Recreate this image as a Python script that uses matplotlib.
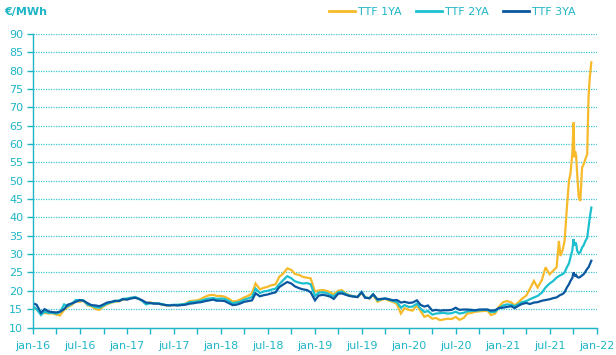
import matplotlib
matplotlib.use("Agg")
import matplotlib.pyplot as plt
import matplotlib.dates as mdates
import pandas as pd
from matplotlib.lines import Line2D

# ---------------- data ----------------
# semi-monthly observations (1st and 15th) from 2016-01-01 to 2021-06-15
semi_start = "2016-01-01"
semi_end = "2021-06-15"
# denser observations during the late-2021 rally
late_dates = ["2021-07-01", "2021-07-15", "2021-07-28", "2021-08-06", "2021-08-12",
              "2021-08-20", "2021-08-28", "2021-09-06", "2021-09-14", "2021-09-20",
              "2021-09-27", "2021-10-02", "2021-10-05", "2021-10-08", "2021-10-12",
              "2021-10-16", "2021-10-22", "2021-10-28", "2021-11-04", "2021-11-10",
              "2021-11-17", "2021-11-24", "2021-11-29", "2021-12-04", "2021-12-10"]

ttf_1ya = [
    # 2016
    15.5, 15.0, 13.8, 14.0, 13.8, 13.9, 13.5, 13.3, 14.8, 15.6, 16.2, 17.2,
    17.0, 17.3, 16.0, 15.8, 15.0, 14.8, 15.8, 16.3, 16.8, 17.0, 17.2, 17.6,
    # 2017
    17.8, 18.0, 18.3, 17.8, 17.3, 16.6, 16.8, 16.6, 16.5, 16.3, 16.0, 16.0,
    16.1, 16.1, 16.2, 16.5, 17.2, 17.3, 17.4, 17.8, 18.4, 18.8, 18.9, 18.6,
    # 2018
    18.6, 18.4, 17.8, 17.1, 17.2, 17.6, 18.2, 18.6, 19.3, 22.0, 20.4, 20.8,
    21.1, 21.5, 21.8, 23.8, 24.8, 26.1, 25.7, 24.6, 24.3, 23.8, 23.6, 23.4,
    # 2019
    19.8, 20.1, 20.2, 20.0, 19.6, 19.0, 20.0, 20.2, 19.3, 18.8, 18.5, 18.3,
    19.4, 18.2, 17.9, 18.9, 17.0, 17.5, 17.8, 17.3, 17.0, 16.4, 13.8, 15.3,
    # 2020
    14.8, 14.6, 16.0, 14.5, 12.9, 13.3, 12.4, 12.6, 12.0, 12.2, 12.4, 12.3,
    12.9, 12.1, 12.6, 13.8, 14.0, 14.3, 14.4, 14.5, 14.6, 13.4, 13.8, 15.6,
    # 2021 H1
    16.9, 17.2, 16.9, 16.0, 16.8, 17.8, 18.7, 20.5, 22.7, 20.9, 23.0, 26.4,
    # 2021 H2
    24.5, 25.5, 26.4, 33.6, 29.5, 31.0, 33.6, 42.7, 50.0, 52.0,
    57.3, 65.9, 56.4, 58.0, 56.8, 51.8, 45.5, 44.5, 53.6, 54.5,
    55.9, 57.3, 72.7, 78.2, 82.3,
]

ttf_2ya = [
    # 2016
    15.8, 15.0, 13.4, 14.3, 14.0, 14.0, 13.8, 14.2, 16.3, 15.8, 16.5, 17.5,
    17.4, 17.4, 16.2, 16.0, 15.5, 15.4, 16.0, 16.5, 16.9, 17.1, 17.4, 17.8,
    # 2017
    17.9, 18.1, 18.3, 17.9, 17.2, 16.3, 16.6, 16.6, 16.6, 16.4, 16.1, 16.1,
    16.2, 16.2, 16.3, 16.4, 16.9, 17.0, 17.1, 17.3, 17.7, 17.9, 18.0, 17.8,
    # 2018
    17.9, 17.8, 17.2, 16.6, 16.8, 17.0, 17.6, 17.9, 18.3, 20.6, 19.4, 19.8,
    20.0, 20.3, 20.6, 21.8, 23.0, 24.0, 23.4, 22.6, 22.2, 22.0, 22.1, 21.8,
    # 2019
    18.6, 19.5, 19.6, 19.4, 18.9, 18.5, 19.6, 19.8, 19.1, 18.7, 18.5, 18.3,
    19.7, 18.2, 18.0, 19.1, 17.4, 17.7, 17.9, 17.6, 17.2, 17.0, 15.4, 16.1,
    # 2020
    15.6, 15.7, 16.5, 15.2, 14.2, 14.5, 13.5, 13.8, 13.9, 14.0, 13.8, 13.9,
    14.3, 13.8, 14.0, 14.4, 14.5, 14.6, 14.7, 14.8, 14.8, 14.2, 14.3, 15.2,
    # 2021 H1
    16.0, 16.3, 16.2, 15.8, 16.3, 16.9, 17.2, 17.7, 18.2, 18.6, 19.5, 20.9,
    # 2021 H2
    22.0, 22.7, 23.6, 24.0, 24.3, 24.5, 25.0, 26.4, 27.5, 29.1,
    31.0, 34.1, 32.3, 33.2, 32.8, 30.9, 30.2, 30.5, 31.8, 32.4,
    33.6, 34.5, 37.3, 40.0, 42.7,
]

ttf_3ya = [
    # 2016
    16.6, 16.2, 14.0, 15.0, 14.4, 14.2, 14.1, 14.3, 15.0, 16.2, 16.6, 17.0,
    17.5, 17.3, 16.6, 16.1, 16.0, 15.8, 16.3, 16.8, 17.0, 17.3, 17.2, 17.7,
    # 2017
    17.6, 17.9, 18.1, 17.8, 17.4, 16.8, 16.7, 16.5, 16.5, 16.3, 16.1, 16.0,
    16.1, 16.0, 16.1, 16.2, 16.5, 16.6, 16.8, 16.9, 17.2, 17.4, 17.6, 17.3,
    # 2018
    17.3, 17.2, 16.6, 16.1, 16.2, 16.5, 17.0, 17.2, 17.4, 19.3, 18.5, 18.8,
    19.0, 19.3, 19.6, 21.0, 21.8, 22.4, 22.0, 21.2, 20.7, 20.4, 20.2, 19.6,
    # 2019
    17.4, 18.7, 18.9, 18.7, 18.4, 17.8, 19.2, 19.3, 18.9, 18.6, 18.4, 18.3,
    19.6, 18.1, 18.0, 19.0, 17.7, 17.8, 17.9, 17.7, 17.4, 17.5, 16.8, 17.0,
    # 2020
    16.7, 16.8, 17.4, 16.2, 15.7, 16.0, 14.6, 14.8, 14.6, 14.7, 14.7, 14.8,
    15.4, 14.8, 14.9, 14.9, 14.8, 14.7, 14.9, 14.9, 14.9, 14.6, 14.7, 15.3,
    # 2021 H1
    15.4, 15.6, 15.8, 15.3, 15.9, 16.4, 16.7, 16.4, 16.8, 16.9, 17.3, 17.5,
    # 2021 H2
    17.7, 18.0, 18.2, 18.6, 18.9, 19.1, 19.6, 20.9, 21.8, 22.7,
    23.5, 25.0, 24.6, 24.1, 24.3, 23.8, 23.6, 23.8, 24.2, 24.5,
    25.2, 26.0, 26.4, 27.2, 28.2,
]

series_labels = ["TTF 1YA", "TTF 2YA", "TTF 3YA"]
y_ticks = list(range(10, 95, 5))
unit_label = "€/MWh"

# ---------------- styling ----------------
c_yellow = "#F6BA2A"
c_cyan = "#1CC0CE"
c_blue = "#0B579F"
c_text = "#1EB6C6"
c_grid = "#3EC5D2"

dates = list(pd.date_range(semi_start, semi_end, freq="SMS")) + list(pd.to_datetime(late_dates))

fig = plt.figure(figsize=(6.16, 3.55), dpi=100)
ax = fig.add_axes([33 / 616, 1 - 327.5 / 355, (597 - 33) / 616, (327.5 - 34) / 355])

for vals, col in zip([ttf_1ya, ttf_2ya, ttf_3ya], [c_yellow, c_cyan, c_blue]):
    ax.plot(dates, vals, color=col, lw=1.6, solid_joinstyle="miter")

ax.set_xlim(pd.Timestamp("2016-01-01"), pd.Timestamp("2022-01-01"))
ax.set_ylim(10, 90)
ax.set_yticks(y_ticks)
ax.yaxis.grid(True, color=c_grid, linestyle=(0, (1, 1)), lw=0.9)
ax.set_axisbelow(True)

ax.xaxis.set_major_locator(mdates.MonthLocator(bymonth=[1, 7]))
ax.xaxis.set_minor_locator(mdates.MonthLocator(bymonth=[4, 10]))
months = {1: "jan", 7: "jul"}
ax.xaxis.set_major_formatter(plt.FuncFormatter(
    lambda v, p: f"{months[mdates.num2date(v).month]}-{mdates.num2date(v).strftime('%y')}"))

for s in ["top", "right"]:
    ax.spines[s].set_visible(False)
for s in ["left", "bottom"]:
    ax.spines[s].set_color(c_text)
    ax.spines[s].set_linewidth(1.0)

ax.tick_params(axis="both", which="both", colors=c_text, labelsize=8, length=4, width=1)
ax.tick_params(axis="x", which="major", pad=6)
ax.tick_params(axis="y", pad=3)
for lbl in ax.get_xticklabels() + ax.get_yticklabels():
    lbl.set_color(c_text)

fig.text(4 / 616, 1 - 12 / 355, unit_label, color=c_text, fontsize=8, fontweight="bold",
         ha="left", va="center")

handles = [Line2D([0], [0], color=c, lw=2) for c in [c_yellow, c_cyan, c_blue]]
leg = fig.legend(handles, series_labels, ncol=3, loc="center",
                 bbox_to_anchor=(452 / 616, 1 - 12 / 355), frameon=False, fontsize=8,
                 handlelength=2.4, handletextpad=0.2, columnspacing=1.3, labelcolor=c_text)

fig.savefig("out.png", dpi=100)
